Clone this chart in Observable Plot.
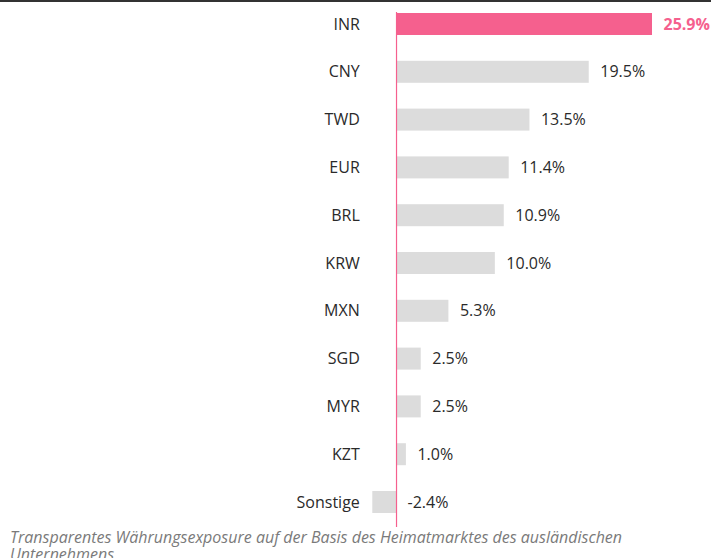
<!DOCTYPE html>
<html>
<head>
<meta charset="utf-8">
<script src="https://cdn.jsdelivr.net/npm/d3@7"></script>
<script src="https://cdn.jsdelivr.net/npm/@observablehq/plot@0.6"></script>
<style>
  html, body { margin: 0; padding: 0; background: #fff; }
  body { width: 711px; font-family: "Open Sans", sans-serif; }
  #top { border-top: 2px solid #333; }
  #chart svg { display: block; }
  #caption { font-family: "Open Sans", sans-serif; font-style: italic; font-size: 16px; line-height: 17px; color: #7a7a7a; padding-left: 10px; width: 640px; margin-top: 1px; }
</style>
</head>
<body>
<div id="top"></div>
<div id="chart"></div>
<div id="caption">Transparentes Währungsexposure auf der Basis des Heimatmarktes des ausländischen Unternehmens.</div>
<script>
const currencies = ["INR", "CNY", "TWD", "EUR", "BRL", "KRW", "MXN", "SGD", "MYR", "KZT", "Sonstige"];
const shares = [25.9, 19.5, 13.5, 11.4, 10.9, 10.0, 5.3, 2.5, 2.5, 1.0, -2.4];
const highlight = "INR";

const data = currencies.map((c, i) => ({currency: c, value: shares[i]}));
const pink = "#f5608e";
const isHi = d => d.currency === highlight;

const chart = Plot.plot({
  width: 711,
  height: 526,
  marginTop: 10,
  marginBottom: 1,
  marginLeft: 372.3,
  marginRight: 59,
  style: {fontFamily: "Open Sans, sans-serif", fontSize: "16px", color: "#333", background: "#fff"},
  x: {domain: [-2.4, 25.9], axis: null},
  y: {domain: currencies, range: [11, 511], paddingInner: 0.54, paddingOuter: 0, round: false, label: null},
  marks: [
    Plot.barX(data, {x: "value", y: "currency", fill: d => isHi(d) ? pink : "#dcdcdc"}),
    Plot.ruleX([0], {stroke: pink, strokeWidth: 1.2}),
    Plot.axisY({tickSize: 0, tickPadding: 13, fontSize: 16, fill: "#2a2a2a", label: null}),
    Plot.text(data.filter(d => !isHi(d)), {
      x: d => Math.max(d.value, 0), y: "currency", dx: 11, textAnchor: "start",
      text: d => d.value.toFixed(1) + "%", fill: "#2a2a2a", fontSize: 16
    }),
    Plot.text(data.filter(isHi), {
      x: d => Math.max(d.value, 0), y: "currency", dx: 11, textAnchor: "start",
      text: d => d.value.toFixed(1) + "%", fill: pink, fontWeight: "bold", fontSize: 16
    })
  ]
});
document.getElementById("chart").appendChild(chart);
</script>
</body>
</html>
